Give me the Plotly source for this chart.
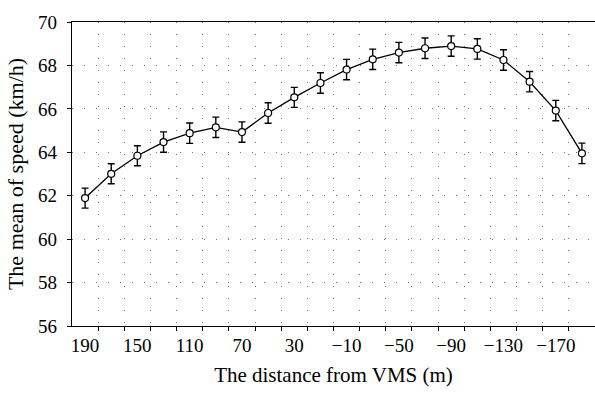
import plotly.graph_objects as go

# Data
distances = [190, 170, 150, 130, 110, 90, 70, 50, 30, 10,
             -10, -30, -50, -70, -90, -110, -130, -150, -170, -190]
mean_speed = [61.89, 63.01, 63.84, 64.47, 64.88, 65.15, 64.93, 65.81, 66.53, 67.19,
              67.81, 68.28, 68.59, 68.79, 68.89, 68.76, 68.25, 67.25, 65.92, 63.95]
error = [0.46, 0.46, 0.46, 0.47, 0.47, 0.47, 0.47, 0.47, 0.46, 0.47,
         0.47, 0.47, 0.47, 0.47, 0.47, 0.47, 0.47, 0.47, 0.47, 0.47]
x_tick_values = [190, 150, 110, 70, 30, -10, -50, -90, -130, -170]
x_tick_labels = ["190", "150", "110", "70", "30", "\u221210", "\u221250", "\u221290", "\u2212130", "\u2212170"]
y_tick_values = [56, 58, 60, 62, 64, 66, 68, 70]

# category boundaries (tick marks / vertical grid lines)
boundaries = [(a + b) / 2 for a, b in zip(distances[:-1], distances[1:])]
half = (distances[0] - distances[1]) / 2
x_range = [distances[0] + half, distances[-1] - half]

FONT = "Liberation Serif"

fig = go.Figure()
fig.add_trace(go.Scatter(
    x=distances, y=mean_speed, mode="lines+markers",
    line=dict(color="black", width=1.3),
    marker=dict(symbol="circle", size=7, color="white", line=dict(color="black", width=1.2)),
    error_y=dict(type="data", array=error, visible=True, color="black", thickness=1.4, width=3.5),
    showlegend=False, hoverinfo="x+y", cliponaxis=False,
))
fig.add_trace(go.Scatter(
    x=distances, y=mean_speed, xaxis="x2", mode="markers",
    marker=dict(opacity=0), showlegend=False, hoverinfo="skip",
))

grid_dash = "1px,11px"
fig.update_layout(
    width=595, height=394,
    margin=dict(l=72, r=0, t=22, b=68),
    paper_bgcolor="white", plot_bgcolor="white",
    font=dict(family=FONT, size=19, color="black"),
    xaxis=dict(
        range=x_range, tickvals=boundaries, ticktext=["" for _ in boundaries],
        ticks="outside", ticklen=4, tickwidth=1.2, tickcolor="black",
        showline=True, linecolor="black", linewidth=1.4, mirror=True,
        showgrid=True, gridcolor="#777777", gridwidth=1, griddash=grid_dash,
        zeroline=False, automargin=False,
    ),
    xaxis2=dict(
        overlaying="x", anchor="y", side="bottom", range=x_range,
        tickvals=x_tick_values, ticktext=x_tick_labels, ticks="",
        showgrid=False, showline=False, zeroline=False, automargin=False,
        tickfont=dict(family=FONT, size=19), ticklabelstandoff=6,
        title=dict(text="The distance from VMS (m)", font=dict(family=FONT, size=21), standoff=12),
    ),
    yaxis=dict(
        range=[56, 70], tickvals=y_tick_values,
        ticks="outside", ticklen=4, tickwidth=1.2, tickcolor="black",
        showline=True, linecolor="black", linewidth=1.4,
        showgrid=True, gridcolor="#777777", gridwidth=1, griddash=grid_dash,
        zeroline=False, ticklabelstandoff=6, automargin=False,
        tickfont=dict(family=FONT, size=19),
        title=dict(text="The mean of speed (km/h)", font=dict(family=FONT, size=22), standoff=8),
    ),
)

fig.write_html("out.html", config={"displayModeBar": False},
               post_script="document.body.style.margin='0';")
